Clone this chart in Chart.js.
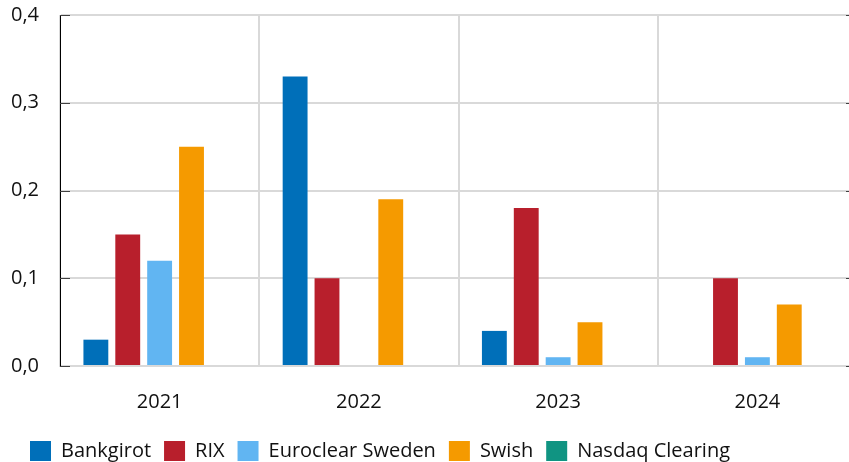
<!DOCTYPE html>
<html>
<head>
<meta charset="utf-8">
<script src="https://cdn.jsdelivr.net/npm/chart.js@4.4.1/dist/chart.umd.min.js"></script>
<style>
    html, body { margin: 0; padding: 0; background: #fff; overflow: hidden; }
    body { width: 849px; height: 462px; }
    /* plot runs a few pixels past the right edge, as in the original */
    #wrap { width: 857px; height: 462px; position: relative; }
</style>
</head>
<body>
<div id="wrap"><canvas id="chart"></canvas></div>
<script>
const years = ['2021', '2022', '2023', '2024'];
const bankgirot = [0.03, 0.33, 0.04, null];
const rix = [0.15, 0.10, 0.18, 0.10];
const euroclear = [0.12, null, 0.01, 0.01];
const swish = [0.25, 0.19, 0.05, 0.07];
const nasdaq = [null, null, null, null];
const yTicks = [0, 0.1, 0.2, 0.3, 0.4];

const font = { family: "'Open Sans', sans-serif", size: 20 };

// small inward tick marks on the y axis, like the original
const tickMarks = {
    id: 'tickMarks',
    beforeDraw(chart) {
        // legend starts a bit in from the left edge
        chart.legend.left = 17;
    },
    afterDraw(chart) {
        const { ctx, chartArea } = chart;
        const y = chart.scales.y;
        ctx.save();
        ctx.strokeStyle = '#404040';
        ctx.lineWidth = 1;
        yTicks.forEach((v) => {
            const py = Math.round(y.getPixelForValue(v)) + 0.5;
            ctx.beginPath();
            ctx.moveTo(chartArea.left, py);
            ctx.lineTo(chartArea.left + 10, py);
            ctx.moveTo(846, py);
            ctx.lineTo(849, py);
            ctx.stroke();
        });
        ctx.restore();
    },
};

const mk = (label, data, color) => ({
    label,
    data,
    backgroundColor: color,
    borderWidth: 0,
    barPercentage: 0.78,
    categoryPercentage: 0.8,
});

new Chart(document.getElementById('chart'), {
    type: 'bar',
    data: {
        labels: years,
        datasets: [
            mk('Bankgirot', bankgirot, '#006fb9'),
            mk('RIX', rix, '#b81f2c'),
            mk('Euroclear Sweden', euroclear, '#61b5f2'),
            mk('Swish', swish, '#f59a00'),
            mk('Nasdaq Clearing', nasdaq, '#109482'),
        ],
    },
    options: {
        responsive: true,
        maintainAspectRatio: false,
        animation: false,
        layout: { padding: { top: 15, right: 0, left: 0, bottom: -9 } },
        plugins: {
            tooltip: { enabled: false },
            legend: {
                position: 'bottom',
                align: 'start',
                labels: {
                    font,
                    color: '#111',
                    boxWidth: 21,
                    boxHeight: 20,
                    padding: 13,
                },
            },
        },
        scales: {
            x: {
                grid: { offset: true, color: '#d9d9d9', drawTicks: false, lineWidth: 2 },
                border: { color: '#d9d9d9', width: 2 },
                ticks: { font, color: '#111', padding: 24 },
                afterFit(scale) { scale.height = 62; },
            },
            y: {
                min: 0,
                max: 0.4,
                afterBuildTicks(scale) { scale.ticks = yTicks.map((v) => ({ value: v })); },
                grid: { color: '#d9d9d9', drawTicks: false, lineWidth: 2 },
                border: { color: '#000', width: 1 },
                ticks: {
                    font,
                    color: '#111',
                    padding: 21,
                    callback: (v) => v.toFixed(1).replace('.', ','),
                },
                afterFit(scale) {
                    scale.width = 60;
                    scale.paddingTop = 0;
                    scale.paddingBottom = 0;
                },
            },
        },
    },
    plugins: [tickMarks],
});
</script>
</body>
</html>
